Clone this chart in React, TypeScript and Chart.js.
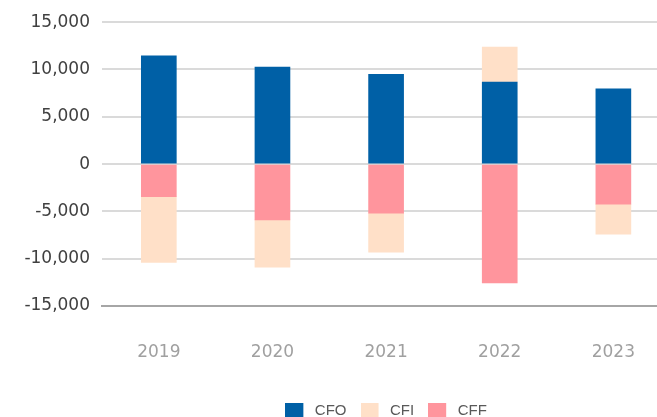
import React, { useEffect, useRef } from "react";
import { Chart, registerables } from "chart.js";

Chart.register(...registerables);

const years = ["2019", "2020", "2021", "2022", "2023"];
const cfo = [11450, 10260, 9490, 8680, 7950];
const cfi = [-6950, -5000, -4140, 3690, -3190];
const cff = [-3450, -5900, -5180, -12550, -4230];
const yTicks = [-15000, -10000, -5000, 0, 5000, 10000, 15000];

const legendOrder = ["CFO", "CFI", "CFF"];

function swatch(color: string): HTMLCanvasElement {
  const c = document.createElement("canvas");
  c.width = 22;
  c.height = 15;
  const g = c.getContext("2d");
  if (g) {
    g.fillStyle = color;
    g.fillRect(0, 0, 18, 15);
  }
  return c;
}

export default function App() {
  const ref = useRef<HTMLCanvasElement | null>(null);
  useEffect(() => {
    if (!ref.current) return;
    const chart = new Chart(ref.current, {
      type: "bar",
      data: {
        labels: years,
        datasets: [
          { label: "CFO", data: cfo, backgroundColor: "#0060A6", stack: "s" },
          { label: "CFF", data: cff, backgroundColor: "#FF959D", stack: "s" },
          { label: "CFI", data: cfi, backgroundColor: "#FFE0C8", stack: "s" },
        ],
      },
      options: {
        responsive: false,
        animation: false,
        layout: { padding: { top: 19, right: 0, left: 0, bottom: 0 } },
        datasets: { bar: { barThickness: 35 } },
        plugins: {
          tooltip: { enabled: false },
          legend: {
            position: "bottom",
            fullSize: false,
            labels: {
              usePointStyle: true,
              pointStyleWidth: 22,
              boxHeight: 15,
              padding: 14,
              color: "#595959",
              font: { family: "Liberation Sans", size: 15 },
              generateLabels: (ch: any) => {
                const items = (Chart.defaults.plugins.legend.labels as any).generateLabels(ch);
                return items.map((it: any) => ({
                  ...it,
                  pointStyle: swatch(it.fillStyle as string),
                }));
              },
              sort: (a: any, b: any) =>
                legendOrder.indexOf(a.text) - legendOrder.indexOf(b.text),
            },
          },
        },
        scales: {
          x: {
            stacked: true,
            grid: { display: false, drawTicks: false },
            border: { display: true, color: "#a6a6a6", width: 2 },
            ticks: {
              color: "#a0a0a0",
              padding: 36,
              font: { family: "DejaVu Sans", size: 17 },
            },
            afterFit: (s: any) => {
              s.height = 83;
            },
          },
          y: {
            stacked: true,
            min: -15000,
            max: 15000,
            afterBuildTicks: (s: any) => {
              s.ticks = yTicks.map((v) => ({ value: v }));
            },
            grid: { color: "#dadada", lineWidth: 2, drawTicks: false },
            border: { display: false },
            ticks: {
              color: "#404040",
              padding: 12,
              font: { family: "DejaVu Sans", size: 17 },
              callback: (v: any) => Number(v).toLocaleString("en-US"),
            },
            afterFit: (s: any) => {
              s.width = 102;
            },
          },
        },
      },
    });
    return () => chart.destroy();
  }, []);
  return (
    <div style={{ position: "fixed", left: 0, top: 0, width: 671, height: 428 }}>
      <canvas ref={ref} width={671} height={428} style={{ width: 671, height: 428 }} />
    </div>
  );
}
